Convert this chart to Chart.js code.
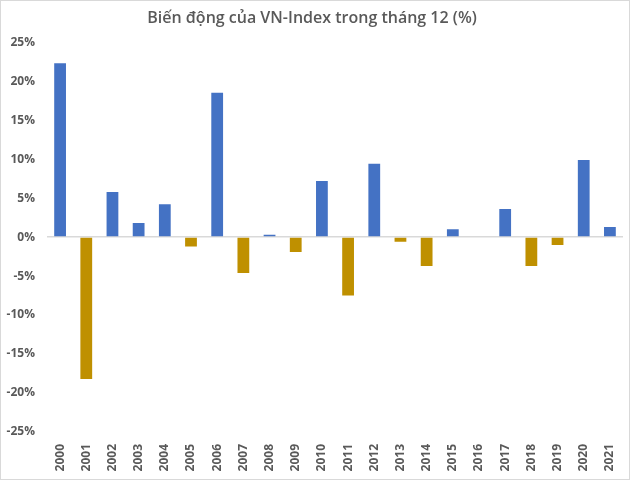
<!DOCTYPE html>
<html>
<head>
<meta charset="utf-8">
<script src="https://cdn.jsdelivr.net/npm/chart.js@4"></script>
<style>
  html, body { margin: 0; padding: 0; background: #fff; }
  .wrap { width: 628px; height: 478px; border: 1px solid #d9d9d9; }
</style>
</head>
<body>
<div class="wrap"><canvas id="myChart" width="628" height="478"></canvas></div>
<script>
const years = ['2000', '2001', '2002', '2003', '2004', '2005', '2006', '2007', '2008', '2009', '2010',
  '2011', '2012', '2013', '2014', '2015', '2016', '2017', '2018', '2019', '2020', '2021'];
const changes = [22.3, -18.2, 5.8, 1.8, 4.2, -1.2, 18.5, -4.6, 0.3, -1.9, 7.2,
  -7.5, 9.4, -0.6, -3.7, 1.0, 0, 3.6, -3.7, -1.0, 9.9, 1.3];
const yTicks = [-25, -20, -15, -10, -5, 0, 5, 10, 15, 20, 25];

const upColor = '#4472C4';
const downColor = '#BF9000';
const textColor = '#595959';

const ctx = document.getElementById('myChart');

new Chart(ctx, {
    type: 'bar',
    data: {
        labels: years,
        datasets: [{
            label: 'VN-Index',
            data: changes,
            backgroundColor: changes.map(v => v >= 0 ? upColor : downColor),
            barPercentage: 0.45,
            categoryPercentage: 1
        }]
    },
    options: {
        responsive: false,
        animation: false,
        layout: { padding: { left: 0, right: 6, top: 0, bottom: 0 } },
        plugins: {
            legend: { display: false },
            tooltip: { enabled: false },
            title: {
                display: true,
                text: 'Biến động của VN-Index trong tháng 12 (%)',
                color: textColor,
                font: { family: 'Open Sans', size: 16, weight: '600' },
                padding: { top: 8, bottom: 14 }
            }
        },
        scales: {
            x: {
                grid: { display: false },
                border: { display: false },
                ticks: {
                    color: textColor,
                    font: { family: 'Open Sans', size: 12, weight: 'bold' },
                    minRotation: 90,
                    maxRotation: 90,
                    autoSkip: false,
                    padding: 4
                },
                afterFit: (axis) => { axis.height = 47; }
            },
            y: {
                min: -25,
                max: 25,
                afterBuildTicks: (axis) => { axis.ticks = yTicks.map(v => ({ value: v })); },
                grid: {
                    drawTicks: false,
                    color: (c) => c.tick && c.tick.value === 0 ? '#d9d9d9' : 'rgba(0,0,0,0)',
                    lineWidth: 1.5
                },
                border: { display: false },
                ticks: {
                    color: textColor,
                    font: { family: 'Open Sans', size: 12, weight: 'bold' },
                    padding: 12,
                    callback: (v) => v + '%'
                },
                afterFit: (axis) => { axis.width = 46; }
            }
        }
    }
});
</script>
</body>
</html>
